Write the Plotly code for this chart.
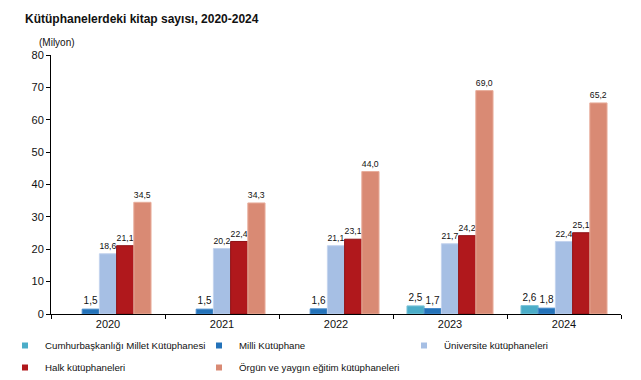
import plotly.graph_objects as go

years = ["2020", "2021", "2022", "2023", "2024"]
cumhurbaskanligi = [None, None, None, 2.5, 2.6]
milli = [1.5, 1.5, 1.6, 1.7, 1.8]
universite = [18.6, 20.2, 21.1, 21.7, 22.4]
halk = [21.1, 22.4, 23.1, 24.2, 25.1]
orgun = [34.5, 34.3, 44.0, 69.0, 65.2]

series_names = [
    "Cumhurbaşkanlığı Millet Kütüphanesi",
    "Milli Kütüphane",
    "Üniversite kütüphaneleri",
    "Halk kütüphaneleri",
    "Örgün ve yaygın eğitim kütüphaneleri",
]
series_values = [cumhurbaskanligi, milli, universite, halk, orgun]
colors = ["#4BADC8", "#2372B9", "#A6BFE4", "#B0181C", "#D98A74"]
line_colors = ["#7CC4D8", "#4A8CCB", "#C3D3EE", "#8E1014", "#E8AE9C"]
legend_ids = ["legend", "legend2", "legend3", "legend", "legend2"]

FONT = "Liberation Sans, Arial, sans-serif"

W, H = 641, 380
L, R, T, B = 51, 20, 55, 66
PW, PH = W - L - R, H - T - B

fig = go.Figure()
for name, vals, c, lc in zip(series_names, series_values, colors, line_colors):
    fig.add_trace(go.Bar(
        x=years, y=vals, name=name, showlegend=False,
        marker=dict(color=c, line=dict(color=lc, width=1)),
        texttemplate="%{y:.1f}", textposition="outside",
        textfont=dict(size=10, color="#111", family=FONT),
        cliponaxis=False,
    ))
# legend entries with small square swatches
for i, (name, c, lg_id) in enumerate(zip(series_names, colors, legend_ids)):
    fig.add_trace(go.Scatter(
        x=[None], y=[None], mode="markers", name=name,
        marker=dict(symbol="square", size=6, color=c),
        legend=lg_id, legendgroup=f"g{i}", showlegend=True, hoverinfo="skip",
    ))


def px_x(px):
    return (px - L) / PW


def px_y(py):
    return (H - B - py) / PH


def lg(xpx, ypx):
    return dict(xref="paper", yref="paper", x=px_x(xpx), y=px_y(ypx),
                xanchor="left", yanchor="top", orientation="v",
                font=dict(size=9.7, family=FONT, color="#111"),
                bgcolor="rgba(0,0,0,0)", itemwidth=30, tracegroupgap=3)


fig.update_layout(
    width=W, height=H,
    margin=dict(l=L, r=R, t=T, b=B, autoexpand=False),
    plot_bgcolor="white", paper_bgcolor="white",
    barmode="group", bargap=0.245, bargroupgap=0,
    separators=",.",
    font=dict(family=FONT, size=10, color="#111"),
    title=dict(text="<b>Kütüphanelerdeki kitap sayısı, 2020-2024</b>",
               xref="container", yref="container", x=25 / W, y=1 - 19 / H,
               xanchor="left", yanchor="middle",
               font=dict(size=12, family=FONT, color="#111")),
    showlegend=True,
    legend=lg(5, 331),
    legend2=lg(199, 331),
    legend3=lg(404, 331),
    xaxis=dict(showline=True, linecolor="black", linewidth=1,
               ticks="outside", tickson="boundaries", ticklen=4, tickcolor="black",
               tickfont=dict(size=11, family=FONT, color="#111"), showgrid=False),
    yaxis=dict(range=[0, 80], dtick=10, showline=True, linecolor="black", linewidth=1,
               ticks="outside", ticklen=4, tickcolor="black", showgrid=False, zeroline=False,
               tickfont=dict(size=11, family=FONT, color="#111")),
    annotations=[dict(text="(Milyon)", xref="paper", yref="paper",
                      x=px_x(37), y=px_y(42),
                      xanchor="left", yanchor="middle", showarrow=False,
                      font=dict(size=10, family=FONT, color="#111"))],
)

fig.write_html("out.html", config={"displayModeBar": False},
               post_script="document.body.style.margin='0px';")
